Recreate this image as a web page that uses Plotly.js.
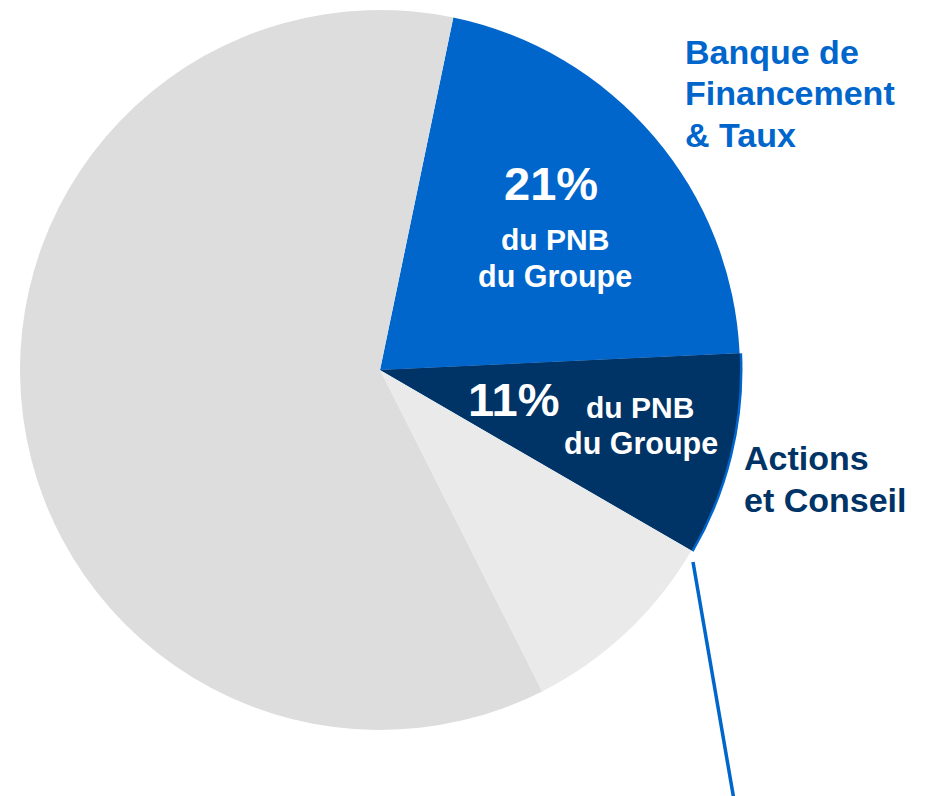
<!DOCTYPE html>
<html>
<head>
<meta charset="utf-8">
<script src="https://cdn.plot.ly/plotly-3.0.1.min.js"></script>
<style>html,body{margin:0;padding:0;background:#fff;}#chart{width:928px;height:796px;}</style>
</head>
<body>
<div id="chart"></div>
<script>
// Segments (clockwise from the start angle)
const segments = ['Banque de Financement & Taux', 'Actions et Conseil', 'Autres (a)', 'Autres (b)'];
// Slice sizes
const sliceValues = [21.0, 9.1, 9.2, 60.7];
const sliceColors = ['#0066CC', '#003366', '#EAEAEA', '#DDDDDD'];
// Printed shares
const shareText = ['21%', '11%'];
const shareSub = ['du PNB', 'du Groupe'];
const outerLabels = [['Banque de', 'Financement', '& Taux'], ['Actions', 'et Conseil']];

const W = 928, H = 796;
const cx = 380, cy = 370, R = 360;
function dom(r) {
  return {x: [(cx - r) / W, (cx + r) / W], y: [(H - cy - r) / H, (H - cy + r) / H]};
}

const rim = {
  type: 'pie', values: sliceValues, labels: segments, sort: false, direction: 'clockwise',
  rotation: 11.75, domain: dom(R + 2.5), textinfo: 'none', hoverinfo: 'skip', showlegend: false,
  marker: {colors: ['rgba(0,0,0,0)', '#0066CC', 'rgba(0,0,0,0)', 'rgba(0,0,0,0)'], line: {width: 0}}
};
const pie = {
  type: 'pie', values: sliceValues, labels: segments, sort: false, direction: 'clockwise',
  rotation: 11.75, domain: dom(R), textinfo: 'none', hoverinfo: 'label+percent', showlegend: false,
  marker: {colors: sliceColors, line: {width: 0}}
};

const F = 'Arial, "Liberation Sans", sans-serif';
function ann(text, x, y, size, color, xanchor) {
  return {text: '<b>' + text + '</b>', x: x / W, y: 1 - y / H, xref: 'paper', yref: 'paper',
    xanchor: xanchor || 'center', yanchor: 'middle', showarrow: false,
    font: {family: F, size: size, color: color}};
}
const annotations = [
  ann(shareText[0], 551, 183, 47, '#FFFFFF'),
  ann(shareSub[0], 555, 239, 30, '#FFFFFF'),
  ann(shareSub[1], 555, 276, 30.5, '#FFFFFF'),
  ann(shareText[1], 513, 399, 47, '#FFFFFF'),
  ann(shareSub[0], 640, 407, 30, '#FFFFFF'),
  ann(shareSub[1], 641, 443, 30.5, '#FFFFFF'),
  ann(outerLabels[0][0], 683, 52, 34, '#0066CC', 'left'),
  ann(outerLabels[0][1], 683, 93, 34, '#0066CC', 'left'),
  ann(outerLabels[0][2], 683, 135, 34, '#0066CC', 'left'),
  ann(outerLabels[1][0], 742, 458, 34, '#003366', 'left'),
  ann(outerLabels[1][1], 742, 500, 34, '#003366', 'left')
];

const layout = {
  width: W, height: H, margin: {l: 0, r: 0, t: 0, b: 0},
  paper_bgcolor: '#FFFFFF', plot_bgcolor: '#FFFFFF', showlegend: false,
  annotations: annotations,
  shapes: [{type: 'line', xref: 'paper', yref: 'paper', x0: 693 / W, y0: 1 - 562 / H, x1: 734 / W, y1: 1 - 800 / H,
    line: {color: '#0066CC', width: 3.5}}]
};
Plotly.newPlot('chart', [rim, pie], layout, {displayModeBar: false, staticPlot: true});
</script>
</body>
</html>
